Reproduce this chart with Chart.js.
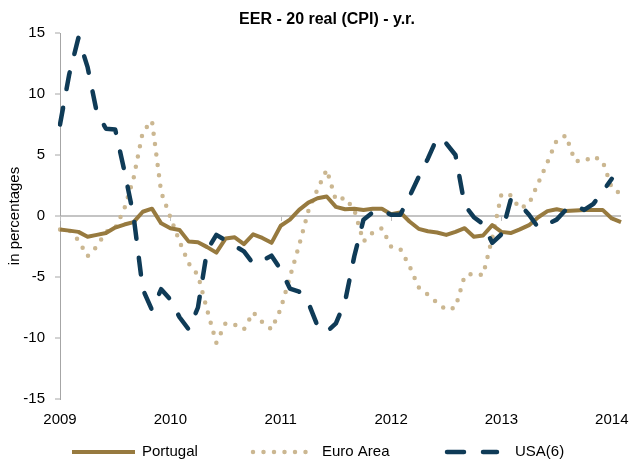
<!DOCTYPE html>
<html>
<head>
<meta charset="utf-8">
<script src="https://cdn.jsdelivr.net/npm/chart.js@4.4.1/dist/chart.umd.min.js"></script>
<style>
  html, body { margin: 0; padding: 0; background: #fff; }
  #wrap { width: 633px; height: 464px; }
</style>
</head>
<body>
<div id="wrap"><canvas id="canvas1" width="633" height="464"></canvas></div>
<script>
// monthly, Jan 2009 .. Feb 2014
var years = ['2009', '2010', '2011', '2012', '2013', '2014'];
var monthNames = ['Jan','Feb','Mar','Apr','May','Jun','Jul','Aug','Sep','Oct','Nov','Dec'];

var portugal = [-1.1, -1.2, -1.3, -1.7, -1.55, -1.4, -0.95, -0.7, -0.5, 0.35, 0.6, -0.6,
  -1.0, -1.15, -2.1, -2.15, -2.55, -3.0, -1.85, -1.75, -2.3, -1.5, -1.8, -2.2,
  -0.8, -0.3, 0.5, 1.1, 1.45, 1.6, 0.75, 0.55, 0.6, 0.5, 0.6, 0.6,
  0.15, 0.3, -0.45, -1.05, -1.25, -1.35, -1.55, -1.3, -1.0, -1.7, -1.6, -0.75,
  -1.3, -1.4, -1.1, -0.75, -0.1, 0.4, 0.55, 0.4, 0.45, 0.5, 0.5, 0.5,
  -0.2, -0.5];

var euroArea = [-1.1, -1.15, -2.0, -3.3, -2.5, -1.3, -1.0, 0.6, 3.1, 6.9, 7.8, 1.95,
  -0.1, -2.1, -3.9, -4.85, -7.7, -10.4, -8.8, -8.9, -9.3, -7.9, -8.7, -9.3,
  -7.6, -5.0, -2.4, 0.4, 2.2, 3.8, 1.3, 1.5, 0.5, -2.1, -1.35, -1.0,
  -2.5, -2.7, -4.1, -5.85, -6.45, -7.1, -7.7, -7.5, -4.9, -4.7, -4.85, -1.8,
  1.8, 1.7, 0.6, 1.0, 2.7, 4.4, 6.2, 6.6, 4.5, 4.5, 4.9, 4.5,
  2.3, 1.8];

var usa = [7.5, 11.6, 14.6, 12.2, 8.5, 7.15, 7.1, 3.7, 0.0, -6.0, -7.7, -6.0,
  -6.85, -8.3, -9.3, -7.5, -2.8, -1.55, -2.0, -2.45, -2.9, -3.9, -3.65, -3.25,
  -4.4, -5.95, -6.2, -7.1, -9.0, -9.5, -8.8, -7.0, -3.3, -0.3, 0.3, 0.45,
  0.1, 0.1, 1.6, 3.2, 4.7, 6.4, 5.95, 5.0, 0.9, -0.1, -0.65, -2.2,
  -1.5, 1.3, 0.95, 0.1, -0.95, -0.65, -0.3, 0.5, 0.85, 0.5, 1.0, 2.0,
  3.05, null];

var chartTitle = 'EER - 20 real (CPI) - y.r.';

var months = [];
for (var y = 0; y < years.length; y++) {
  for (var m = 0; m < 12; m++) {
    if (months.length < portugal.length) months.push(monthNames[m] + ' ' + years[y]);
  }
}

var FONT = "'Liberation Sans Narrow', 'Arial Narrow', 'Liberation Sans', Arial, sans-serif";

// small year marks hanging under the zero line
var yearMarks = {
  id: 'yearMarks',
  beforeDatasetsDraw: function(chart) {
    var xs = chart.scales.x, ys = chart.scales.y, c = chart.ctx;
    var y0 = ys.getPixelForValue(0);
    c.save();
    c.strokeStyle = '#bfbfbf';
    c.lineWidth = 1;
    for (var i = 0; i < months.length; i += 12) {
      var px = Math.round(xs.getPixelForValue(i)) + 0.5;
      c.beginPath();
      c.moveTo(px, y0);
      c.lineTo(px, y0 + 5);
      c.stroke();
    }
    c.restore();
  }
};

// title (a bit right of centre, as in the original) and excel-like legend
var decorations = {
  id: 'decorations',
  afterDraw: function(chart) {
    var c = chart.ctx;
    c.save();
    c.fillStyle = '#000';
    c.textBaseline = 'middle';
    c.textAlign = 'center';
    c.font = 'bold 16px ' + FONT;
    c.fillText(chartTitle, 327, 20);

    var starts = [72, 253, 447];
    var lens = [63, 62, 50];
    var ly = 452;
    c.textAlign = 'left';
    c.font = '15px ' + FONT;
    chart.data.datasets.forEach(function(ds, i) {
      c.beginPath();
      c.strokeStyle = ds.borderColor;
      c.lineWidth = ds.borderWidth;
      c.lineCap = ds.borderCapStyle || 'butt';
      c.setLineDash(ds.borderDash || []);
      c.moveTo(starts[i], ly);
      c.lineTo(starts[i] + lens[i], ly);
      c.stroke();
      c.setLineDash([]);
      c.fillText(ds.label, starts[i] + lens[i] + (i === 2 ? 18 : 7), ly);
    });
    c.restore();
  }
};

var chartdata = {
  labels: months,
  datasets: [
    {
      label: 'Portugal',
      data: portugal,
      borderColor: '#977a3f',
      backgroundColor: '#977a3f',
      borderWidth: 4,
      borderJoinStyle: 'round',
      borderCapStyle: 'butt',
      order: 1
    },
    {
      label: 'Euro Area',
      data: euroArea,
      borderColor: '#cbb791',
      backgroundColor: '#cbb791',
      borderWidth: 4.5,
      borderDash: [0, 10.5],
      borderCapStyle: 'round',
      order: 2
    },
    {
      label: 'USA(6)',
      data: usa,
      borderColor: '#0f3b57',
      backgroundColor: '#0f3b57',
      borderWidth: 4.5,
      borderDash: [17, 19],
      borderCapStyle: 'round',
      borderJoinStyle: 'round',
      order: 0
    }
  ]
};

var ctx = document.getElementById('canvas1');
var lineGraph = new Chart(ctx, {
  type: 'line',
  data: chartdata,
  plugins: [yearMarks, decorations],
  options: {
    responsive: false,
    animation: false,
    devicePixelRatio: 1,
    layout: { padding: { left: 0, right: 6, top: 33, bottom: 31 } },
    elements: { point: { radius: 0 }, line: { tension: 0, fill: false } },
    plugins: {
      tooltip: { enabled: false },
      legend: { display: false },
      title: { display: false }
    },
    scales: {
      x: {
        grid: { display: false, drawTicks: false },
        border: { display: false },
        ticks: {
          autoSkip: false,
          maxRotation: 0,
          padding: 12,
          color: '#000',
          font: { family: FONT, size: 15 },
          callback: function(v, i) { return i % 12 === 0 ? years[i / 12] : ''; }
        },
        afterFit: function(s) { s.height = 34; }
      },
      y: {
        min: -15,
        max: 15,
        ticks: {
          stepSize: 5,
          padding: 10,
          color: '#000',
          font: { family: FONT, size: 15 }
        },
        grid: {
          color: function(c) { return c.tick && c.tick.value === 0 ? '#c4c4c4' : 'rgba(0,0,0,0)'; },
          lineWidth: 2,
          tickColor: '#a6a6a6',
          tickLength: 5,
          tickWidth: 1
        },
        border: { display: true, color: '#a6a6a6', width: 1 },
        title: {
          display: true,
          text: 'in percentages',
          color: '#000',
          font: { family: FONT, size: 15 },
          padding: { top: 6, bottom: 0 }
        },
        afterFit: function(s) { s.width = 60; }
      }
    }
  }
});
</script>
</body>
</html>
